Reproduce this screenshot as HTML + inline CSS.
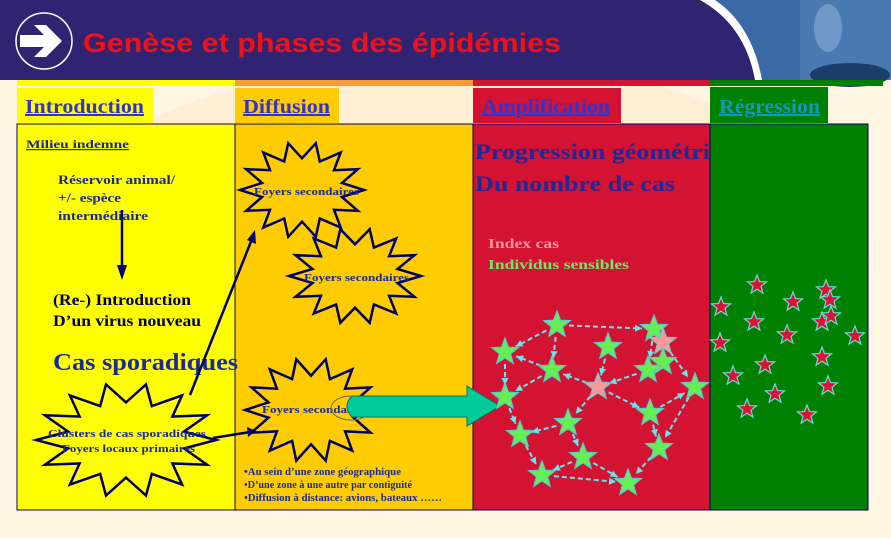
<!DOCTYPE html>
<html><head><meta charset="utf-8"><style>
html,body{margin:0;padding:0;background:#fff5e3;}
svg{display:block}
text{font-family:"Liberation Serif",serif;font-weight:bold}
</style></head><body>
<svg id="s" width="891" height="538" viewBox="0 0 891 538" xmlns="http://www.w3.org/2000/svg">
<rect width="891" height="538" fill="#fff5e3"/>
<ellipse cx="450" cy="260" rx="420" ry="200" fill="#fde9c9" opacity="0.6"/>
<!-- header -->
<rect x="0" y="0" width="891" height="80" fill="#302472"/>
<path d="M700 0 Q745 25 755 80 L891 80 L891 0 Z" fill="#ffffff"/>
<path d="M715 0 Q752 25 762 80 L891 80 L891 0 Z" fill="#3a6aa5"/>
<rect x="800" y="0" width="91" height="80" fill="#4a78b0"/>
<ellipse cx="828" cy="28" rx="14" ry="24" fill="#6f98c8"/>
<ellipse cx="850" cy="75" rx="40" ry="12" fill="#1b3d6c"/>
<circle cx="44" cy="41" r="28" fill="none" stroke="#fff" stroke-width="1.5"/>
<path d="M20 35 L44 35 L34 25 L46 25 L62 41 L46 57 L34 57 L44 47 L20 47 Z" fill="#fff"/>
<text x="83" y="52" font-size="27" fill="#f0101a" textLength="478" lengthAdjust="spacingAndGlyphs" style="font-family:'Liberation Sans',sans-serif;font-weight:bold">Genèse et phases des épidémies</text>
<!-- colour bars -->
<rect x="17" y="80" width="218" height="6" fill="#ffff00"/>
<rect x="235" y="80" width="238" height="6" fill="#ff9933"/>
<rect x="473" y="80" width="237" height="6" fill="#d41232"/>
<rect x="710" y="80" width="173" height="6" fill="#008000"/>
<!-- tabs -->
<rect x="17" y="88" width="136" height="35" fill="#ffff00"/>
<rect x="235" y="88" width="104" height="35" fill="#ffcc00"/>
<rect x="473" y="88" width="148" height="35" fill="#d41232"/>
<rect x="710" y="87" width="118" height="36" fill="#008000"/>
<text x="25" y="113" font-size="20" fill="#3333cc" text-decoration="underline" textLength="119" lengthAdjust="spacingAndGlyphs">Introduction</text>
<text x="243" y="113" font-size="20" fill="#3333cc" text-decoration="underline" textLength="87" lengthAdjust="spacingAndGlyphs">Diffusion</text>
<text x="482" y="113" font-size="20" fill="#3333cc" text-decoration="underline" textLength="128" lengthAdjust="spacingAndGlyphs">Amplification</text>
<text x="719" y="113" font-size="20" fill="#1199bb" text-decoration="underline" textLength="101" lengthAdjust="spacingAndGlyphs">Régression</text>
<!-- columns -->
<rect x="17" y="124" width="218" height="386" fill="#ffff00" stroke="#000060"/>
<rect x="235" y="124" width="238" height="386" fill="#ffcc00" stroke="#000060"/>
<rect x="473" y="124" width="237" height="386" fill="#d41232" stroke="#000060"/>
<rect x="710" y="124" width="158" height="386" fill="#008000" stroke="#000060"/>
<!-- intro texts -->
<text x="26" y="148" font-size="12" fill="#1a2a9a" text-decoration="underline" textLength="103" lengthAdjust="spacingAndGlyphs">Milieu indemne</text>
<text x="58" y="184" font-size="13" fill="#1a2a9a" textLength="117" lengthAdjust="spacingAndGlyphs">Réservoir animal/</text>
<text x="58" y="202" font-size="13" fill="#1a2a9a" textLength="63" lengthAdjust="spacingAndGlyphs">+/- espèce</text>
<text x="58" y="220" font-size="13" fill="#1a2a9a" textLength="90" lengthAdjust="spacingAndGlyphs">intermédiaire</text>
<line x1="122" y1="210" x2="122" y2="272" stroke="#000066" stroke-width="2.5"/>
<path d="M117 265 L122 280 L127 265 Z" fill="#000066"/>
<text x="53" y="305" font-size="16" fill="#000055" textLength="138" lengthAdjust="spacingAndGlyphs">(Re-) Introduction</text>
<text x="53" y="326" font-size="16" fill="#000055" textLength="148" lengthAdjust="spacingAndGlyphs">D’un virus nouveau</text>
<text x="53" y="370" font-size="24" fill="#1a2a9a" textLength="185" lengthAdjust="spacingAndGlyphs">Cas sporadiques</text>
<g id="bursts"></g>
<text x="48" y="437" font-size="11" fill="#1a2a9a" textLength="158" lengthAdjust="spacingAndGlyphs">Clusters de cas sporadiques</text>
<text x="62" y="452" font-size="11" fill="#1a2a9a" textLength="133" lengthAdjust="spacingAndGlyphs">Foyers locaux primaires</text>
<text x="254" y="195" font-size="11" fill="#1a2a9a" textLength="105" lengthAdjust="spacingAndGlyphs">Foyers secondaires</text>
<text x="304" y="281" font-size="11" fill="#1a2a9a" textLength="105" lengthAdjust="spacingAndGlyphs">Foyers secondaires</text>
<text x="262" y="413" font-size="11" fill="#1a2a9a" textLength="105" lengthAdjust="spacingAndGlyphs">Foyers secondaires</text>
<!-- arrows from clusters -->
<line x1="190" y1="395" x2="252" y2="239" stroke="#000066" stroke-width="2.5"/>
<path d="M247 240 L255 230 L256 244 Z" fill="#000066"/>
<line x1="213" y1="438" x2="250" y2="432" stroke="#000066" stroke-width="2.5"/>
<path d="M247 427 L256 431 L248 437 Z" fill="#000066"/>
<!-- big green arrow -->
<ellipse cx="351" cy="408" rx="20" ry="12" fill="none" stroke="#666" stroke-width="1"/>
<path d="M352 396 L467 396 L467 386 L500 406 L467 426 L467 417 L352 417 Q342 406 352 396Z" fill="#00cc99" stroke="#007755" stroke-width="1"/>
<text x="244" y="475" font-size="10" fill="#1a2a9a" textLength="157" lengthAdjust="spacingAndGlyphs">•Au sein d’une zone géographique</text>
<text x="244" y="488" font-size="10" fill="#1a2a9a" textLength="168" lengthAdjust="spacingAndGlyphs">•D’une zone à une autre par contiguité</text>
<text x="244" y="501" font-size="10" fill="#1a2a9a" textLength="198" lengthAdjust="spacingAndGlyphs">•Diffusion à distance: avions, bateaux ……</text>
<!-- amplification -->
<text x="475" y="159" font-size="22" fill="#1a2a9a" textLength="235" lengthAdjust="spacingAndGlyphs">Progression géométri</text>
<text x="475" y="191" font-size="22" fill="#1a2a9a" textLength="200" lengthAdjust="spacingAndGlyphs">Du nombre de cas</text>
<text x="488" y="248" font-size="14" fill="#ff9999" textLength="71" lengthAdjust="spacingAndGlyphs">Index cas</text>
<text x="488" y="269" font-size="14" fill="#66ee66" textLength="141" lengthAdjust="spacingAndGlyphs">Individus sensibles</text>
<g id="links" stroke="#66e6ee" stroke-width="2" stroke-dasharray="5,3" fill="none"></g>
<g id="stars"></g>
</svg>
<script>
var NS="http://www.w3.org/2000/svg";
function burst(cx,cy,rx,ry,n,rin){var p=[];for(var i=0;i<2*n;i++){var a=Math.PI*i/n,r=i%2?rin:1;p.push((cx+Math.cos(a)*rx*r).toFixed(1)+","+(cy+Math.sin(a)*ry*r).toFixed(1));}
var e=document.createElementNS(NS,"polygon");e.setAttribute("points",p.join(" "));e.setAttribute("fill","none");e.setAttribute("stroke","#000066");e.setAttribute("stroke-width","2.5");document.getElementById("bursts").appendChild(e);}
burst(126,440,90,57,14,0.66);burst(302,190,62,48,14,0.66);burst(355,276,66,48,14,0.66);burst(311,410,66,52,14,0.66);
function star(cx,cy,r,fill,stroke){var p=[];for(var i=0;i<10;i++){var a=-Math.PI/2+Math.PI*i/5,rr=i%2?r*0.42:r;p.push((cx+Math.cos(a)*rr).toFixed(1)+","+(cy+Math.sin(a)*rr).toFixed(1));}
var e=document.createElementNS(NS,"polygon");e.setAttribute("points",p.join(" "));e.setAttribute("fill",fill);if(stroke){e.setAttribute("stroke",stroke);e.setAttribute("stroke-width","1.2");}document.getElementById("stars").appendChild(e);}
var S=[[557,325],[505,352],[552,370],[608,347],[654,329],[663,362],[648,370],[695,387],[505,397],[650,413],[568,423],[520,435],[659,448],[583,457],[542,475],[628,483]];
var P=[[663,342],[598,387]];
var L=[[0,1],[0,2],[0,4],[1,8],[2,8],[2,1],[3,P[1]],[4,7],[6,P[1]],[P[1],2],[P[1],9],[P[1],10],[9,7],[9,12],[7,12],[10,11],[10,13],[8,11],[11,14],[13,14],[13,15],[14,15],[12,15],[4,6]];
var g=document.getElementById("links");
function pt(x){return Array.isArray(x)?x:S[x];}
L.forEach(function(l){var a=pt(l[0]),b=pt(l[1]);var dx=b[0]-a[0],dy=b[1]-a[1],d=Math.hypot(dx,dy),ux=dx/d,uy=dy/d;
var x1=a[0]+ux*12,y1=a[1]+uy*12,x2=b[0]-ux*12,y2=b[1]-uy*12;
var e=document.createElementNS(NS,"line");e.setAttribute("x1",x1);e.setAttribute("y1",y1);e.setAttribute("x2",x2);e.setAttribute("y2",y2);g.appendChild(e);
var h=document.createElementNS(NS,"polygon");h.setAttribute("points",x2+","+y2+" "+(x2-ux*7-uy*3.5)+","+(y2-uy*7+ux*3.5)+" "+(x2-ux*7+uy*3.5)+","+(y2-uy*7-ux*3.5));h.setAttribute("fill","#66e6ee");h.setAttribute("stroke","none");g.appendChild(h);});
S.forEach(function(s){star(s[0],s[1],14,"#66ee55","#55cccc");});
P.forEach(function(s){star(s[0],s[1],14,"#ff9999","#66cccc");});
var G=[[721,307],[757,285],[793,302],[826,290],[830,300],[754,322],[787,335],[822,322],[831,316],[855,336],[720,343],[765,365],[822,357],[733,376],[775,394],[828,386],[747,409],[807,415]];
G.forEach(function(s){star(s[0],s[1],10,"#dd1133","#66dddd");});
</script>
</body></html>
